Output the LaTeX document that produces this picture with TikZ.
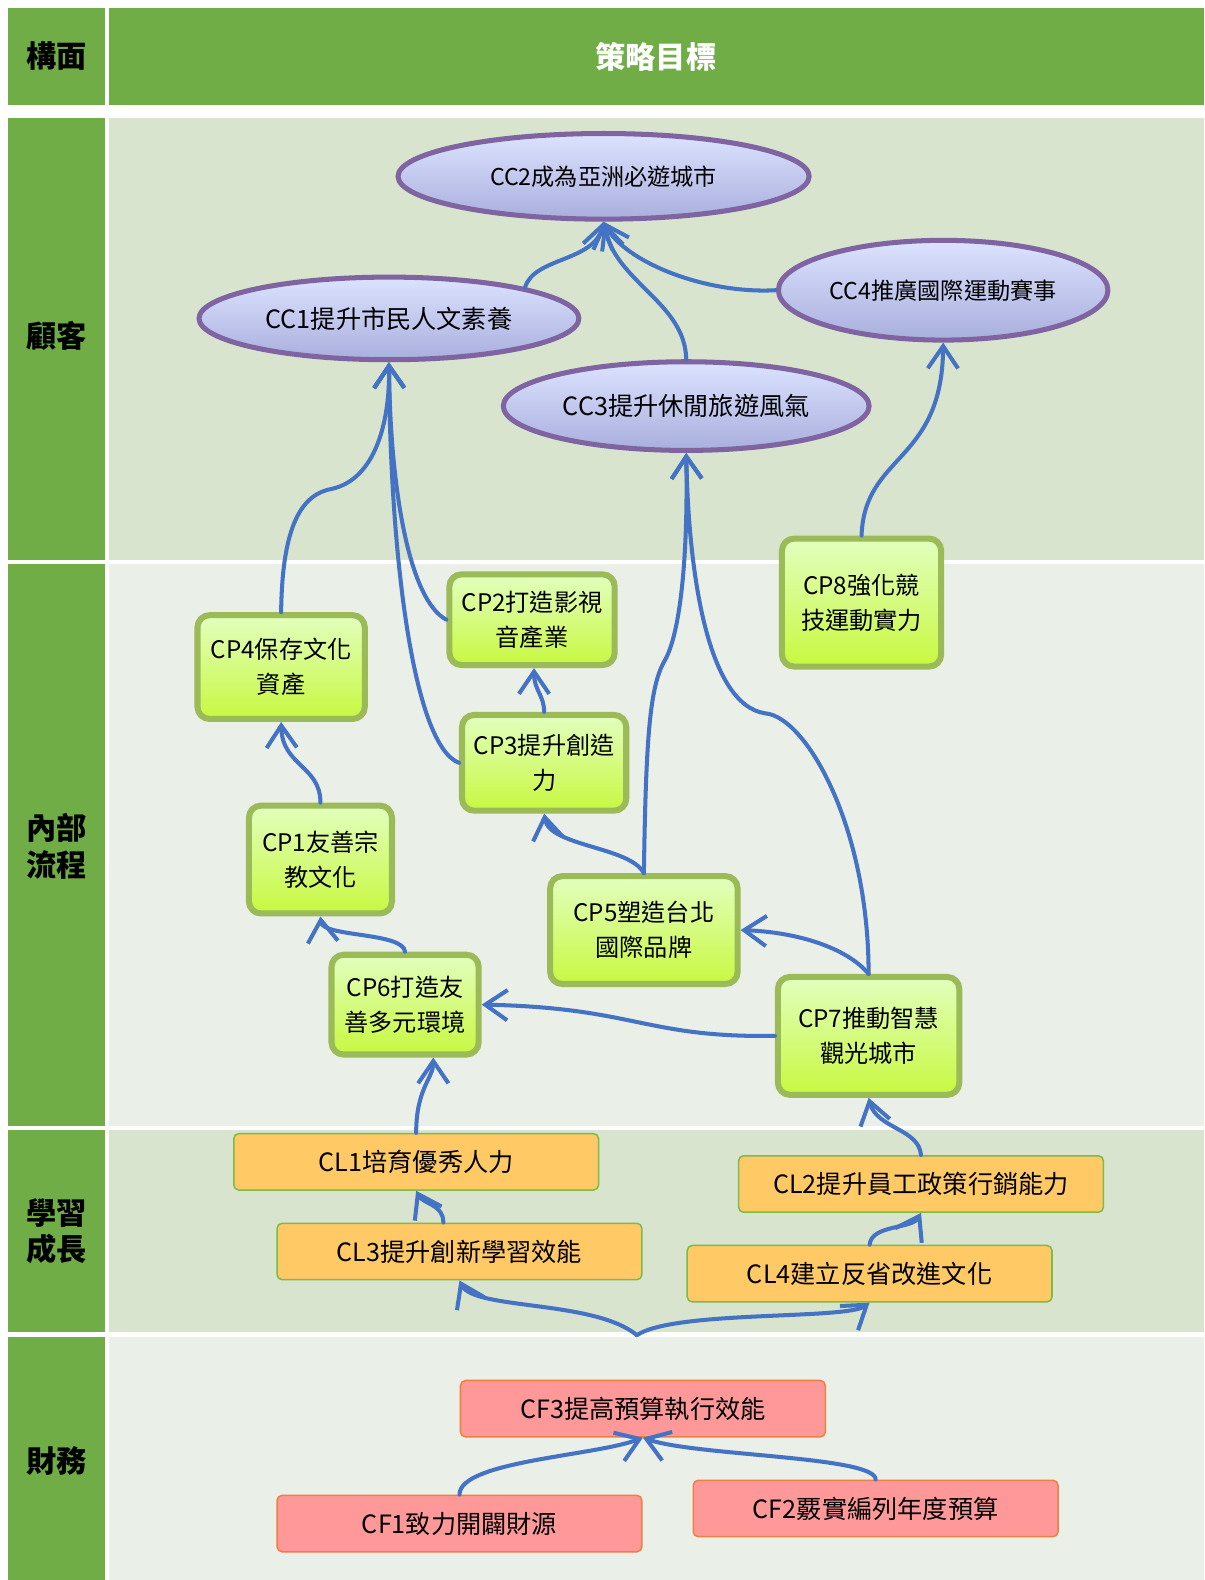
\documentclass[tikz,border=0pt]{standalone}
\usepackage{fontspec}
\setmainfont{Noto Sans CJK TC}
\usetikzlibrary{shapes.geometric,arrows.meta}
\definecolor{hdr}{HTML}{70AD47}
\definecolor{bandA}{HTML}{D8E4CE}
\definecolor{bandB}{HTML}{EAEFE8}
\definecolor{arr}{HTML}{4472C4}
\definecolor{elltop}{HTML}{DCE3FF}
\definecolor{ellbot}{HTML}{A9AFDD}
\definecolor{ellline}{HTML}{8064A2}
\definecolor{cptop}{HTML}{E2FFBE}
\definecolor{cpbot}{HTML}{C8F840}
\definecolor{cpline}{HTML}{9BBB59}
\definecolor{clfill}{HTML}{FFC966}
\definecolor{clline}{HTML}{7DBB4A}
\definecolor{cffill}{HTML}{FF9999}
\definecolor{cfline}{HTML}{F08040}
\begin{document}
\begin{tikzpicture}[x=1pt,y=-1pt,
  lab/.style={font=\fontsize{30}{36}\selectfont\bfseries, align=center, text=black, inner sep=0pt},
  goal/.style={ellipse, draw=ellline, line width=5pt, top color=elltop, bottom color=ellbot, inner sep=0pt, font=\fontsize{23}{28}\selectfont},
  biggoal/.style={goal, font=\fontsize{25}{30}\selectfont},
  proc/.style={rectangle, rounded corners=12pt, draw=cpline, line width=6pt, top color=cptop, bottom color=cpbot, align=center, inner sep=0pt, font=\fontsize{24}{35}\selectfont},
  learn/.style={rectangle, rounded corners=5pt, draw=clline, line width=1.5pt, fill=clfill, minimum width=362pt, minimum height=56pt, inner sep=0pt, font=\fontsize{25}{30}\selectfont},
  fin/.style={rectangle, rounded corners=5pt, draw=cfline, line width=1.5pt, fill=cffill, minimum width=362pt, minimum height=56pt, inner sep=0pt, font=\fontsize{25}{30}\selectfont},
  link/.style={draw=arr, line width=4pt, line cap=round, -{Straight Barb[length=22pt,width=30pt]}}
]
\useasboundingbox (0,0) rectangle (1195,1568);
\fill[white] (0,0) rectangle (1195,1568);
% bands
\fill[hdr] (8,8) rectangle (104,104);
\fill[hdr] (108,8) rectangle (1195,104);
\fill[hdr] (8,117) rectangle (104,556);
\fill[bandA] (108,117) rectangle (1195,556);
\fill[hdr] (8,560) rectangle (104,1117);
\fill[bandB] (108,560) rectangle (1195,1117);
\fill[hdr] (8,1121) rectangle (104,1322);
\fill[bandA] (108,1121) rectangle (1195,1322);
\fill[hdr] (8,1327) rectangle (104,1568);
\fill[bandB] (108,1327) rectangle (1195,1568);
% labels
\node[lab] (h1) at (56,56) {構面};
\node[lab, text=white] (h2) at (651,56) {策略目標};
\node[lab] (l1) at (56,333) {顧客};
\node[lab] (l2) at (56,840) {內部\\流程};
\node[lab] (l3) at (56,1222) {學習\\成長};
\node[lab] (l4) at (56,1450) {財務};
% customer
\node[goal, minimum width=408pt, minimum height=85pt] (CC2) at (599,175) {CC2成為亞洲必遊城市};
\node[biggoal, minimum width=377pt, minimum height=82pt] (CC1) at (386,316) {CC1提升市民人文素養};
\node[goal, minimum width=327pt, minimum height=99pt] (CC4) at (936,288) {CC4推廣國際運動賽事};
\node[biggoal, minimum width=363pt, minimum height=88pt] (CC3) at (681,403) {CC3提升休閒旅遊風氣};
% internal
\node[proc, minimum width=166pt, minimum height=103pt] (CP4) at (279,662) {CP4保存文化\\資產};
\node[proc, minimum width=164pt, minimum height=90pt] (CP2) at (528,615) {CP2打造影視\\音產業};
\node[proc, minimum width=163pt, minimum height=95pt] (CP3) at (540,757) {CP3提升創造\\力};
\node[proc, minimum width=142pt, minimum height=107pt] (CP1) at (318,853) {CP1友善宗\\教文化};
\node[proc, minimum width=186pt, minimum height=107pt] (CP5) at (639,923) {CP5塑造台北\\國際品牌};
\node[proc, minimum width=146pt, minimum height=99pt] (CP6) at (402,997) {CP6打造友\\善多元環境};
\node[proc, minimum width=180pt, minimum height=117pt] (CP7) at (862,1028) {CP7推動智慧\\觀光城市};
\node[proc, minimum width=158pt, minimum height=127pt] (CP8) at (855,598) {CP8強化競\\技運動實力};
% learning
\node[learn] (CL1) at (413,1153) {CL1培育優秀人力};
\node[learn] (CL3) at (456,1242) {CL3提升創新學習效能};
\node[learn] (CL2) at (914,1175) {CL2提升員工政策行銷能力};
\node[learn] (CL4) at (863,1264) {CL4建立反省改進文化};
% finance
\node[fin] (CF3) at (638,1398) {CF3提高預算執行效能};
\node[fin] (CF1) at (456,1512) {CF1致力開闢財源};
\node[fin] (CF2) at (869,1497) {CF2覈實編列年度預算};
\coordinate (S) at (632,1325);
% connectors
\draw[link] (CF1.north) .. controls (456,1450) and (590,1445) .. (CF3.south);
\draw[link] (CF2.north) .. controls (869,1445) and (690,1445) .. (CF3.south);
\draw[link] (S) .. controls (590,1290) and (470,1300) .. (CL3.south);
\draw[link] (S) .. controls (670,1300) and (840,1310) .. (CL4.south);
\draw[link] ([xshift=-16pt]CL3.north) .. controls (440,1195) and (420,1195) .. (CL1.south);
\draw[link] (CL4.north) .. controls (865,1215) and (905,1220) .. (CL2.south);
\draw[link] (CL2.north) .. controls (912,1120) and (870,1120) .. (CP7.south);
\draw[link] (CL1.north) .. controls (413,1080) and (430,1070) .. ([xshift=28pt]CP6.south);
\draw[link] (CP7.west) .. controls (640,1030) and (630,1000) .. (CP6.east);
\draw[link] (CP7.north) .. controls (840,940) and (790,925) .. (CP5.east);
\draw[link] (CP7.north) .. controls (862,820) and (800,712) .. (760,708) .. controls (700,700) and (683,560) .. (CC3.south);
\draw[link] (CP5.north) .. controls (641,730) and (645,680) .. (660,655) .. controls (674,630) and (683,560) .. (CC3.south);
\draw[link] (CP5.north) .. controls (625,840) and (545,840) .. (CP3.south);
\draw[link] (CP3.north) .. controls (540,690) and (530,685) .. ([xshift=2pt]CP2.south);
\draw[link] (CP3.west) .. controls (410,740) and (387,550) .. (CC1.south);
\draw[link] (CP2.west) .. controls (405,595) and (387,480) .. (CC1.south);
\draw[link] (CP4.north) .. controls (280,520) and (300,490) .. (330,485) .. controls (372,475) and (387,420) .. (CC1.south);
\draw[link] (CP1.north) .. controls (318,760) and (280,760) .. (CP4.south);
\draw[link] (CP6.north) .. controls (400,925) and (320,930) .. (CP1.south);
\draw[link] (CP8.north) .. controls (858,450) and (935,460) .. (CC4.south);
\draw[link] (CC1.north east) .. controls (530,255) and (590,260) .. (CC2.south);
\draw[link] (CC3.north) .. controls (680,300) and (610,280) .. (CC2.south);
\draw[link] (CC4.west) .. controls (700,292) and (620,260) .. (CC2.south);
\end{tikzpicture}
\end{document}
